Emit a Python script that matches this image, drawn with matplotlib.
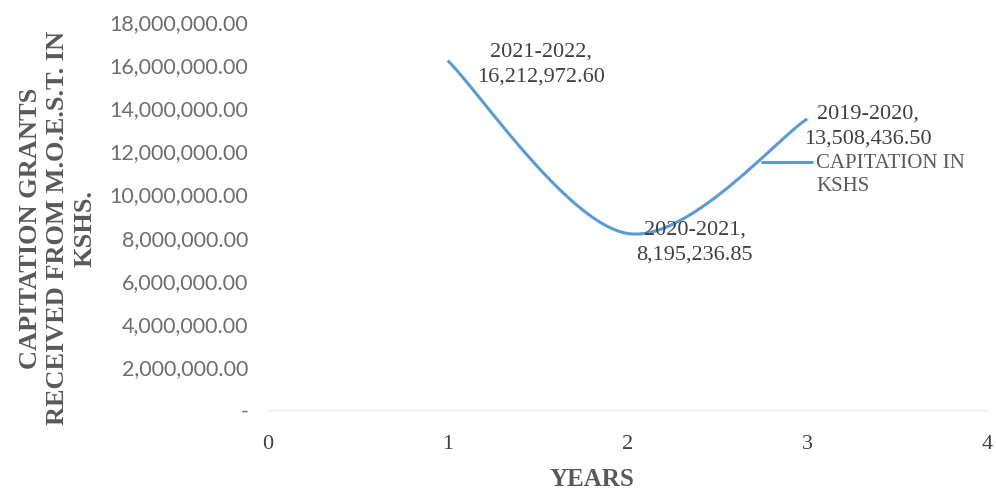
import numpy as np
import matplotlib.pyplot as plt
from matplotlib.legend_handler import HandlerLine2D

# Capitation grants per financial year
years = ['2021-2022', '2020-2021', '2019-2020']
x_pos = [1, 2, 3]
grants = [16212972.60, 8195236.85, 13508436.50]

y_ticks = np.arange(0, 18000001, 2000000)
x_ticks = [0, 1, 2, 3, 4]


def smooth_curve(xs, ys, n=60):
    # Bezier segments with control points from neighbouring points (Excel-like smoothing)
    xs = np.asarray(xs, float)
    ys = np.asarray(ys, float)
    px = np.concatenate([[xs[0]], xs, [xs[-1]]])
    py = np.concatenate([[ys[0]], ys, [ys[-1]]])
    out_x, out_y = [], []
    t = np.linspace(0, 1, n)
    for i in range(1, len(px) - 2):
        p0 = np.array([px[i], py[i]])
        p3 = np.array([px[i + 1], py[i + 1]])
        c1 = p0 + (np.array([px[i + 1], py[i + 1]]) - np.array([px[i - 1], py[i - 1]])) / 6
        c2 = p3 - (np.array([px[i + 2], py[i + 2]]) - np.array([px[i], py[i]])) / 6
        b = ((1 - t) ** 3)[:, None] * p0 + (3 * (1 - t) ** 2 * t)[:, None] * c1 \
            + (3 * (1 - t) * t ** 2)[:, None] * c2 + (t ** 3)[:, None] * p3
        out_x.extend(b[:, 0])
        out_y.extend(b[:, 1])
    return out_x, out_y


class FirstLineHandler(HandlerLine2D):
    # put the legend line level with the first line of a two-line label
    def create_artists(self, legend, orig_handle, xdescent, ydescent, width, height,
                       fontsize, trans):
        arts = super().create_artists(legend, orig_handle, xdescent, ydescent, width,
                                      height, fontsize, trans)
        for a in arts:
            a.set_ydata(np.asarray(a.get_ydata()) + 0.62 * fontsize)
        return arts


serif = 'Liberation Serif'
grey = '#595959'

fig = plt.figure(figsize=(9.96, 4.9), dpi=100)
ax = fig.add_axes([0.269, 0.163, 0.722, 0.792])

sx, sy = smooth_curve(x_pos, grants)
line, = ax.plot(sx, sy, color='#5B9BD5', linewidth=2.2, solid_capstyle='butt',
                label='CAPITATION IN\nKSHS')

offsets = [(93, -4), (67, -9), (61, -8)]
for xv, yv, yr, off in zip(x_pos, grants, years, offsets):
    ax.annotate(f'{yr},\n{yv:,.2f}', (xv, yv), xytext=off, textcoords='offset pixels',
                ha='center', va='center', fontsize=16, family=serif,
                color='#404040', linespacing=1.45)

ax.set_xlim(0, 4)
ax.set_ylim(0, 18000000)
ax.set_xticks(x_ticks)
ax.set_xticklabels([str(v) for v in x_ticks], family=serif, fontsize=16, color='#404040')
ax.set_yticks(y_ticks)
ax.set_yticklabels(['-' if v == 0 else f'{v:,.2f}' for v in y_ticks],
                   family='Lato', fontsize=15.5, color='#6e6e6e')
ax.tick_params(axis='both', length=0)
ax.tick_params(axis='y', pad=14)
ax.tick_params(axis='x', pad=18)

for side in ['top', 'right', 'left']:
    ax.spines[side].set_visible(False)
ax.spines['bottom'].set_color('#ececec')
ax.spines['bottom'].set_linewidth(1.0)

ax.set_xlabel('YEARS', family=serif, fontsize=18, fontweight='bold', color=grey)
ax.xaxis.set_label_coords(0.45, -0.148)
ax.set_ylabel('CAPITATION GRANTS\nRECEIVED FROM M.O.E.S.T. IN\nKSHS.', family=serif,
              fontsize=19, fontweight='bold', color=grey, linespacing=1.25)
ax.yaxis.set_label_coords(-0.238, 0.469)

leg = ax.legend(loc='center left', bbox_to_anchor=(0.686, 0.606), frameon=False,
                handlelength=2.5, handletextpad=0.15, borderaxespad=0, borderpad=0,
                handler_map={line: FirstLineHandler()},
                prop={'family': serif, 'size': 15})
for t in leg.get_texts():
    t.set_color(grey)
    t.set_linespacing(1.3)

fig.savefig('out.png', dpi=100)
